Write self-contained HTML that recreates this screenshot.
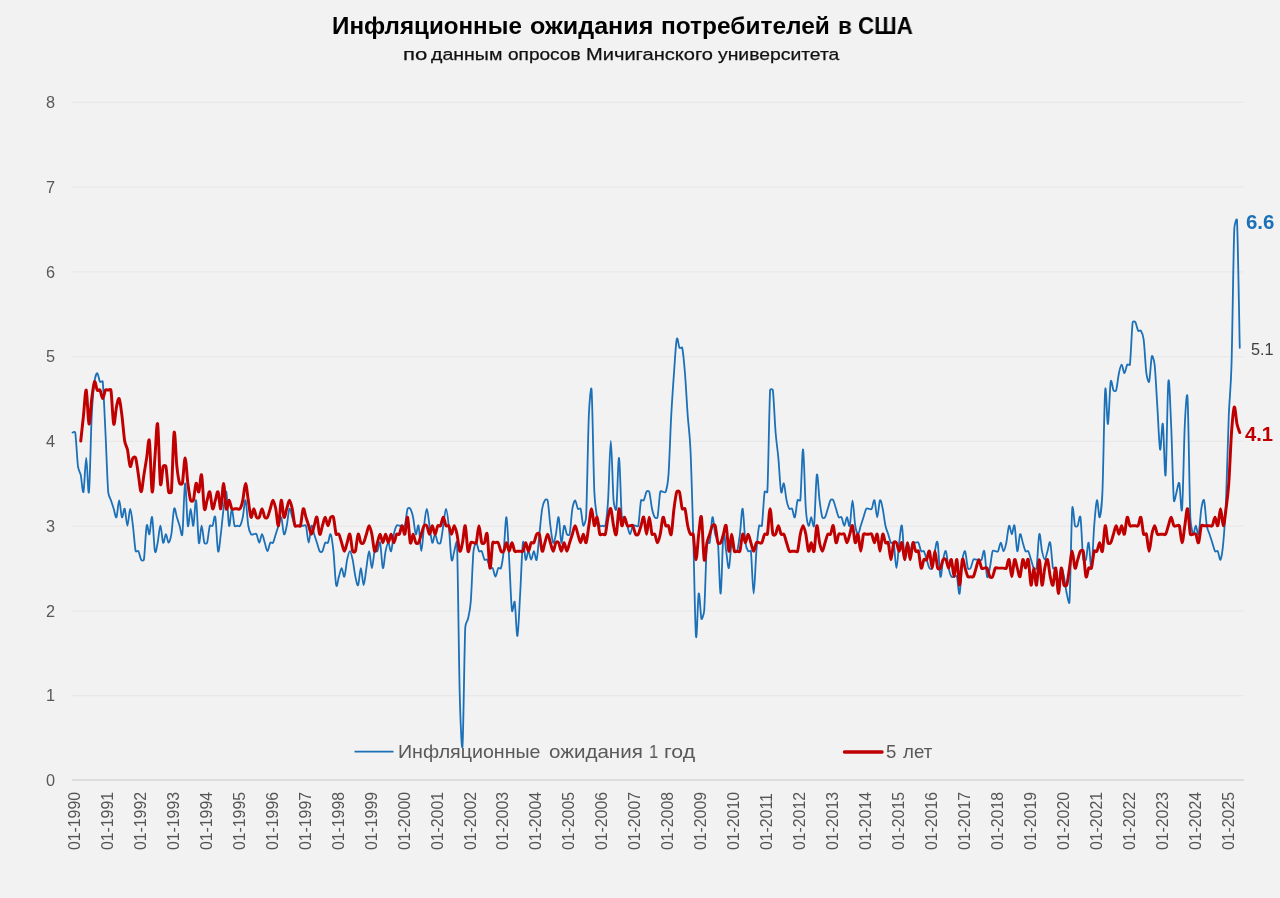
<!DOCTYPE html>
<html><head><meta charset="utf-8"><title>chart</title>
<style>
html,body{margin:0;padding:0}
body{width:1280px;height:898px;background:#f2f2f2;position:relative;overflow:hidden;font-family:"Liberation Sans",sans-serif;color:#595959}
.t{position:absolute;white-space:nowrap;line-height:1;will-change:transform}
.title{top:14.8px;font-size:23.4px;font-weight:bold;color:#000;transform-origin:0 50%}
.sub{top:46.3px;font-size:17.2px;color:#111;-webkit-text-stroke:0.25px #111;transform-origin:0 50%}
.yl{right:1225px;font-size:16.3px;color:#595959}
.xl{font-size:15.8px;color:#555;transform-origin:0 0;transform:rotate(-90deg)}
.leg{font-size:17.8px;color:#595959;transform-origin:0 50%}
</style></head><body>
<svg width="1280" height="898" viewBox="0 0 1280 898" style="position:absolute;left:0;top:0">
<line x1="72" x2="1243.5" y1="695.55" y2="695.55" stroke="#e8e8e8" stroke-width="1.3"/>
<line x1="72" x2="1243.5" y1="610.80" y2="610.80" stroke="#e8e8e8" stroke-width="1.3"/>
<line x1="72" x2="1243.5" y1="526.05" y2="526.05" stroke="#e8e8e8" stroke-width="1.3"/>
<line x1="72" x2="1243.5" y1="441.30" y2="441.30" stroke="#e8e8e8" stroke-width="1.3"/>
<line x1="72" x2="1243.5" y1="356.55" y2="356.55" stroke="#e8e8e8" stroke-width="1.3"/>
<line x1="72" x2="1243.5" y1="271.80" y2="271.80" stroke="#e8e8e8" stroke-width="1.3"/>
<line x1="72" x2="1243.5" y1="187.05" y2="187.05" stroke="#e8e8e8" stroke-width="1.3"/>
<line x1="72" x2="1243.5" y1="102.30" y2="102.30" stroke="#e8e8e8" stroke-width="1.3"/>
<line x1="72" x2="1244" y1="780" y2="780" stroke="#d6d6d6" stroke-width="1.6"/>
<line x1="354.5" x2="393.5" y1="751.6" y2="751.6" stroke="#1b70b8" stroke-width="1.9"/>
<line x1="844.5" x2="882" y1="752" y2="752" stroke="#c00000" stroke-width="3.4" stroke-linecap="round"/>
<path d="M72.50 432.53C72.61 432.53 75.03 431.17 75.25 432.53C76.16 438.18 77.08 459.36 77.99 466.43C78.57 470.84 80.17 472.25 80.74 474.90C81.66 479.14 82.57 494.68 83.49 491.85C84.40 489.03 85.32 457.95 86.23 457.95C87.15 457.95 88.06 498.91 88.98 491.85C89.89 484.79 90.81 433.94 91.73 415.57C92.57 398.59 93.63 388.21 94.47 381.68C95.04 377.26 96.65 373.20 97.22 373.20C98.13 373.20 99.05 380.26 99.97 381.68C100.71 382.83 102.56 380.31 102.71 381.68C103.63 390.15 104.54 414.16 105.46 432.53C106.37 450.89 107.29 480.55 108.20 491.85C108.56 496.29 110.59 499.22 110.95 500.32C111.87 503.15 112.78 505.98 113.70 508.80C114.61 511.62 115.53 518.69 116.44 517.27C117.36 515.86 118.28 500.32 119.19 500.32C120.11 500.32 121.02 515.86 121.94 517.27C122.85 518.69 123.77 507.39 124.68 508.80C125.60 510.21 126.51 525.75 127.43 525.75C128.35 525.75 129.26 508.80 130.18 508.80C131.09 508.80 132.01 518.69 132.92 525.75C133.84 532.81 134.75 546.94 135.67 551.17C135.96 552.52 137.67 550.02 138.42 551.17C139.33 552.59 140.25 558.24 141.16 559.65C141.91 560.80 143.69 561.01 143.91 559.65C144.82 554.00 145.74 529.99 146.66 525.75C147.57 521.51 148.49 535.64 149.40 534.23C150.32 532.81 151.23 514.45 152.15 517.27C153.06 520.10 153.98 546.94 154.90 551.17C155.81 555.41 156.73 546.94 157.64 542.70C158.56 538.46 159.47 525.75 160.39 525.75C161.30 525.75 162.22 541.29 163.13 542.70C164.05 544.11 164.97 534.23 165.88 534.23C166.80 534.23 167.71 542.70 168.63 542.70C169.34 542.70 170.66 538.62 171.37 534.23C172.29 528.58 173.20 511.62 174.12 508.80C175.04 505.98 175.95 514.45 176.87 517.27C177.78 520.10 178.70 522.92 179.61 525.75C180.19 527.52 181.79 538.64 182.36 534.23C183.28 527.16 184.19 484.79 185.11 483.38C186.02 481.96 186.94 521.51 187.85 525.75C188.77 529.99 189.68 508.80 190.60 508.80C191.52 508.80 192.43 527.16 193.35 525.75C194.26 524.34 195.18 497.50 196.09 500.32C197.01 503.15 197.92 538.46 198.84 542.70C199.75 546.94 200.67 525.75 201.59 525.75C202.50 525.75 203.42 539.88 204.33 542.70C204.76 544.01 206.66 544.01 207.08 542.70C207.99 539.88 208.91 528.58 209.83 525.75C210.25 524.44 211.82 526.90 212.57 525.75C213.49 524.34 214.40 513.04 215.32 517.27C216.23 521.51 217.15 548.35 218.06 551.17C218.98 554.00 219.90 541.29 220.81 534.23C221.73 527.16 222.64 515.86 223.56 508.80C224.47 501.74 225.39 489.03 226.30 491.85C227.22 494.68 228.13 522.92 229.05 525.75C229.97 528.58 230.88 508.80 231.80 508.80C232.71 508.80 233.63 522.92 234.54 525.75C234.97 527.06 236.87 525.75 237.29 525.75C238.04 525.75 239.29 526.90 240.04 525.75C240.95 524.34 241.87 521.51 242.78 517.27C243.70 513.04 244.61 498.91 245.53 500.32C246.45 501.74 247.36 520.10 248.28 525.75C248.99 530.15 250.31 533.13 251.02 534.23C251.77 535.38 253.02 534.23 253.77 534.23C254.52 534.23 255.77 533.07 256.52 534.23C257.43 535.64 258.35 542.70 259.26 542.70C260.18 542.70 261.09 534.23 262.01 534.23C262.92 534.23 263.84 539.88 264.75 542.70C265.67 545.53 266.59 551.17 267.50 551.17C268.42 551.17 269.33 544.11 270.25 542.70C270.99 541.55 272.25 543.85 272.99 542.70C273.91 541.29 274.83 537.05 275.74 534.23C276.66 531.40 277.57 528.58 278.49 525.75C279.40 522.92 280.32 515.86 281.23 517.27C282.15 518.69 283.06 532.81 283.98 534.23C284.90 535.64 285.81 529.99 286.73 525.75C287.64 521.51 288.56 510.21 289.47 508.80C290.39 507.39 291.30 514.45 292.22 517.27C293.14 520.10 294.05 524.34 294.97 525.75C295.71 526.90 296.97 525.75 297.71 525.75C298.63 525.75 299.54 525.75 300.46 525.75C301.38 525.75 302.29 525.75 303.21 525.75C303.63 525.75 305.53 524.44 305.95 525.75C306.87 528.58 307.78 542.70 308.70 542.70C309.61 542.70 310.53 527.16 311.45 525.75C312.36 524.34 313.28 531.40 314.19 534.23C315.11 537.05 316.02 539.88 316.94 542.70C317.85 545.53 318.77 549.76 319.69 551.17C320.43 552.33 321.68 552.33 322.43 551.17C323.35 549.76 324.26 544.11 325.18 542.70C325.92 541.55 327.18 543.85 327.92 542.70C328.84 541.29 329.76 532.81 330.67 534.23C331.59 535.64 332.50 542.70 333.42 551.17C334.33 559.65 335.25 580.84 336.16 585.08C337.08 589.31 338.00 579.43 338.91 576.60C339.83 573.77 340.74 568.12 341.66 568.12C342.57 568.12 343.49 578.01 344.40 576.60C345.32 575.19 346.23 563.89 347.15 559.65C348.07 555.41 348.98 551.17 349.90 551.17C350.81 551.17 351.73 555.41 352.64 559.65C353.56 563.89 354.47 572.36 355.39 576.60C356.31 580.84 357.22 586.49 358.14 585.08C359.05 583.66 359.97 568.12 360.88 568.12C361.80 568.12 362.71 585.08 363.63 585.08C364.54 585.08 365.46 573.77 366.38 568.12C367.29 562.48 368.21 551.17 369.12 551.17C370.04 551.17 370.95 568.12 371.87 568.12C372.78 568.12 373.70 554.00 374.62 551.17C375.04 549.87 376.61 552.33 377.36 551.17C378.28 549.76 379.19 539.88 380.11 542.70C381.02 545.53 381.94 566.71 382.85 568.12C383.77 569.54 384.69 555.41 385.60 551.17C386.52 546.94 387.43 542.70 388.35 542.70C389.26 542.70 390.18 552.59 391.09 551.17C392.01 549.76 392.93 538.46 393.84 534.23C394.76 529.99 395.67 527.16 396.59 525.75C397.33 524.60 398.59 525.75 399.33 525.75C400.25 525.75 401.16 525.75 402.08 525.75C402.50 525.75 404.40 527.06 404.83 525.75C405.74 522.92 406.66 511.62 407.57 508.80C408.00 507.49 409.57 507.65 410.32 508.80C411.24 510.21 412.15 513.04 413.07 517.27C413.98 521.51 414.90 532.81 415.81 534.23C416.73 535.64 417.64 522.92 418.56 525.75C419.47 528.58 420.39 551.17 421.31 551.17C422.22 551.17 423.14 532.81 424.05 525.75C424.97 518.69 425.88 508.80 426.80 508.80C427.71 508.80 428.63 520.10 429.55 525.75C430.46 531.40 431.38 541.29 432.29 542.70C433.21 544.11 434.12 534.23 435.04 534.23C435.95 534.23 436.87 541.29 437.78 542.70C438.53 543.85 440.11 544.01 440.53 542.70C441.45 539.88 442.36 531.40 443.28 525.75C444.19 520.10 445.11 508.80 446.02 508.80C446.94 508.80 447.86 517.27 448.77 525.75C449.69 534.23 450.60 555.41 451.52 559.65C452.43 563.89 453.35 554.00 454.26 551.17C454.43 550.65 456.84 538.25 457.01 542.70C457.93 566.71 458.84 661.35 459.76 695.25C460.44 720.70 461.82 754.58 462.50 746.10C463.42 734.80 464.33 648.64 465.25 627.45C465.44 623.00 467.80 619.87 468.00 618.98C468.69 615.77 470.05 610.58 470.74 602.02C471.66 590.72 472.57 561.06 473.49 551.17C473.90 546.74 475.82 542.70 476.24 542.70C477.15 542.70 478.07 549.76 478.98 551.17C479.73 552.33 480.98 550.02 481.73 551.17C482.64 552.59 483.56 558.24 484.48 559.65C485.22 560.80 486.47 558.50 487.22 559.65C488.14 561.06 489.05 566.71 489.97 568.12C490.71 569.28 491.97 566.97 492.71 568.12C493.63 569.54 494.55 576.60 495.46 576.60C496.38 576.60 497.29 569.54 498.21 568.12C498.95 566.97 500.53 569.43 500.95 568.12C501.87 565.30 502.79 559.65 503.70 551.17C504.62 542.70 505.53 515.86 506.45 517.27C507.36 518.69 508.28 544.11 509.19 559.65C510.11 575.19 511.02 603.44 511.94 610.50C512.51 614.92 514.11 599.37 514.69 602.02C515.60 606.26 516.52 637.34 517.43 635.92C518.35 634.51 519.26 609.09 520.18 593.55C521.10 578.01 522.01 548.35 522.93 542.70C523.84 537.05 524.76 558.24 525.67 559.65C526.59 561.06 527.50 551.17 528.42 551.17C529.33 551.17 530.25 559.65 531.17 559.65C532.08 559.65 533.00 551.17 533.91 551.17C534.83 551.17 535.74 562.47 536.66 559.65C537.57 556.83 538.49 542.70 539.40 534.23C540.32 525.75 541.24 514.45 542.15 508.80C542.86 504.40 544.19 501.42 544.90 500.32C545.64 499.17 547.35 498.98 547.64 500.32C548.56 504.56 549.48 518.69 550.39 525.75C551.31 532.81 552.22 541.29 553.14 542.70C554.05 544.11 554.97 538.46 555.88 534.23C556.80 529.99 557.72 515.86 558.63 517.27C559.55 518.69 560.46 541.29 561.38 542.70C562.29 544.11 563.21 527.16 564.12 525.75C565.04 524.34 565.95 532.81 566.87 534.23C567.62 535.38 569.33 535.57 569.62 534.23C570.53 529.99 571.45 514.45 572.36 508.80C573.08 504.40 574.40 500.32 575.11 500.32C576.02 500.32 576.94 507.39 577.86 508.80C578.60 509.95 580.18 507.49 580.60 508.80C581.52 511.62 582.43 524.34 583.35 525.75C583.57 526.09 585.87 521.72 586.10 517.27C587.01 498.91 587.93 436.76 588.84 415.57C589.39 402.80 591.04 382.49 591.59 390.15C592.50 402.86 593.42 470.66 594.34 491.85C594.89 504.62 596.53 513.87 597.08 517.27C597.79 521.67 599.12 524.65 599.83 525.75C600.57 526.90 601.83 525.75 602.57 525.75C602.86 525.75 605.03 527.09 605.32 525.75C606.15 521.92 607.24 513.08 608.07 500.32C608.98 486.20 609.90 441.00 610.81 441.00C611.73 441.00 612.65 489.02 613.56 500.32C613.92 504.76 615.73 513.22 616.31 508.80C617.22 501.74 618.14 456.54 619.05 457.95C619.97 459.36 620.88 507.39 621.80 517.27C621.93 518.64 623.80 516.12 624.55 517.27C625.46 518.69 626.38 522.92 627.29 525.75C628.21 528.58 629.12 534.23 630.04 534.23C630.96 534.23 631.87 527.16 632.79 525.75C633.53 524.60 634.79 525.75 635.53 525.75C635.82 525.75 637.99 527.09 638.28 525.75C639.19 521.51 640.11 504.56 641.03 500.32C641.32 498.98 643.03 501.48 643.77 500.32C644.69 498.91 645.60 493.26 646.52 491.85C647.27 490.70 648.84 490.54 649.26 491.85C650.18 494.68 651.10 504.56 652.01 508.80C652.93 513.04 653.84 515.86 654.76 517.27C655.50 518.43 657.21 518.62 657.50 517.27C658.42 513.04 659.34 496.09 660.25 491.85C660.54 490.51 662.71 491.85 663.00 491.85C663.42 491.85 665.32 493.16 665.74 491.85C666.36 489.95 667.87 483.46 668.49 474.90C669.41 462.19 670.32 432.52 671.24 415.57C672.15 398.62 673.07 385.91 673.98 373.20C674.90 360.49 675.81 343.54 676.73 339.30C677.65 335.06 678.56 346.36 679.48 347.78C680.22 348.93 681.93 346.43 682.22 347.78C683.14 352.01 684.05 361.90 684.97 373.20C685.88 384.50 686.80 402.86 687.72 415.57C688.50 426.50 689.68 432.49 690.46 449.48C691.38 469.25 692.29 503.15 693.21 534.23C694.12 565.30 695.04 626.04 695.96 635.92C696.87 645.81 697.79 596.38 698.70 593.55C699.62 590.72 700.53 616.15 701.45 618.98C701.77 619.96 703.88 614.94 704.20 610.50C705.11 597.79 706.03 554.00 706.94 542.70C707.05 541.33 709.40 544.04 709.69 542.70C710.60 538.46 711.52 518.69 712.43 517.27C713.35 515.86 714.27 529.99 715.18 534.23C715.59 536.13 717.52 538.26 717.93 542.70C718.84 552.59 719.76 594.96 720.67 593.55C721.59 592.14 722.51 541.29 723.42 534.23C724.34 527.16 725.25 545.52 726.17 551.17C727.08 556.82 728.00 569.54 728.91 568.12C729.83 566.71 730.74 545.53 731.66 542.70C732.58 539.88 733.49 549.76 734.41 551.17C735.15 552.33 736.73 552.48 737.15 551.17C738.07 548.35 738.98 541.29 739.90 534.23C740.82 527.16 741.73 507.39 742.65 508.80C743.56 510.21 744.48 535.64 745.39 542.70C745.97 547.12 747.57 550.29 748.14 551.17C748.89 552.33 750.71 549.81 750.89 551.17C751.80 558.24 752.72 593.55 753.63 593.55C754.55 593.55 755.46 562.47 756.38 551.17C757.29 539.88 758.21 529.99 759.12 525.75C759.41 524.41 761.65 527.11 761.87 525.75C762.79 520.10 763.70 497.50 764.62 491.85C764.84 490.49 767.29 493.22 767.36 491.85C768.28 474.90 769.20 407.10 770.11 390.15C770.19 388.78 772.68 388.79 772.86 390.15C773.77 397.21 774.69 421.23 775.60 432.53C776.52 443.83 777.43 448.06 778.35 457.95C779.27 467.84 780.18 487.61 781.10 491.85C782.01 496.09 782.93 481.96 783.84 483.38C784.76 484.79 785.67 496.09 786.59 500.32C787.51 504.56 788.42 507.39 789.34 508.80C790.08 509.95 791.34 507.65 792.08 508.80C793.00 510.21 793.91 518.69 794.83 517.27C795.75 515.86 796.66 503.15 797.58 500.32C798.00 499.02 800.18 501.69 800.32 500.32C801.24 491.85 802.15 448.06 803.07 449.48C803.98 450.89 804.90 496.09 805.82 508.80C806.43 517.36 807.95 524.80 808.56 525.75C809.48 527.16 810.39 517.27 811.31 517.27C811.88 517.27 813.48 530.17 814.06 525.75C814.97 518.69 815.89 479.14 816.80 474.90C817.72 470.66 818.63 493.26 819.55 500.32C820.46 507.39 821.38 514.45 822.29 517.27C822.72 518.58 824.29 518.43 825.04 517.27C825.96 515.86 826.87 511.62 827.79 508.80C828.70 505.98 829.62 501.74 830.53 500.32C831.28 499.17 832.53 499.17 833.28 500.32C834.20 501.74 835.11 505.98 836.03 508.80C836.94 511.62 837.86 515.86 838.77 517.27C839.52 518.43 840.77 516.12 841.52 517.27C842.44 518.69 843.35 525.75 844.27 525.75C845.18 525.75 846.10 517.27 847.01 517.27C847.93 517.27 848.84 528.58 849.76 525.75C850.67 522.92 851.59 500.32 852.51 500.32C853.42 500.32 854.34 520.10 855.25 525.75C855.96 530.15 857.29 534.23 858.00 534.23C858.91 534.23 859.83 528.58 860.75 525.75C861.66 522.92 862.58 520.10 863.49 517.27C864.41 514.45 865.32 510.21 866.24 508.80C866.99 507.65 868.24 508.80 868.99 508.80C869.73 508.80 870.98 509.95 871.73 508.80C872.65 507.39 873.56 498.91 874.48 500.32C875.39 501.74 876.31 517.27 877.22 517.27C878.14 517.27 879.06 501.74 879.97 500.32C880.89 498.91 881.80 504.56 882.72 508.80C883.63 513.04 884.55 521.51 885.46 525.75C886.38 529.99 887.30 531.40 888.21 534.23C889.13 537.05 890.04 541.29 890.96 542.70C891.70 543.85 893.41 541.36 893.70 542.70C894.62 546.94 895.53 568.12 896.45 568.12C897.37 568.12 898.28 549.76 899.20 542.70C900.11 535.64 901.03 522.92 901.94 525.75C902.86 528.58 903.77 556.82 904.69 559.65C905.61 562.48 906.52 544.11 907.44 542.70C908.35 541.29 909.27 551.17 910.18 551.17C911.10 551.17 912.01 544.11 912.93 542.70C913.68 541.55 914.93 542.70 915.68 542.70C916.42 542.70 917.68 541.55 918.42 542.70C919.34 544.11 920.25 549.76 921.17 551.17C921.92 552.33 923.17 550.02 923.92 551.17C924.83 552.59 925.75 556.82 926.66 559.65C927.58 562.48 928.49 566.71 929.41 568.12C930.15 569.28 931.73 569.43 932.15 568.12C933.07 565.30 933.99 555.41 934.90 551.17C935.82 546.94 936.73 538.46 937.65 542.70C938.56 546.94 939.48 573.78 940.39 576.60C941.31 579.42 942.23 563.89 943.14 559.65C944.06 555.41 944.97 549.76 945.89 551.17C946.80 552.59 947.72 563.89 948.63 568.12C949.55 572.36 950.46 575.19 951.38 576.60C952.13 577.75 953.38 576.60 954.13 576.60C954.55 576.60 956.45 575.29 956.87 576.60C957.79 579.42 958.70 596.38 959.62 593.55C960.54 590.72 961.45 566.71 962.37 559.65C962.94 555.23 964.54 550.29 965.11 551.17C966.03 552.59 966.94 565.30 967.86 568.12C968.28 569.43 969.86 569.28 970.61 568.12C971.52 566.71 972.44 561.06 973.35 559.65C974.10 558.50 975.35 559.65 976.10 559.65C977.01 559.65 977.93 559.65 978.85 559.65C979.59 559.65 980.84 560.80 981.59 559.65C982.51 558.24 983.42 548.35 984.34 551.17C985.25 554.00 986.17 573.77 987.08 576.60C988.00 579.43 988.92 572.36 989.83 568.12C990.75 563.89 991.66 554.00 992.58 551.17C993.00 549.87 994.90 551.17 995.32 551.17C996.07 551.17 997.32 552.33 998.07 551.17C998.99 549.76 999.90 542.70 1000.82 542.70C1001.73 542.70 1002.65 551.17 1003.56 551.17C1004.48 551.17 1005.39 546.94 1006.31 542.70C1007.23 538.46 1008.14 527.16 1009.06 525.75C1009.97 524.34 1010.89 534.23 1011.80 534.23C1012.72 534.23 1013.63 522.92 1014.55 525.75C1015.47 528.58 1016.38 549.76 1017.30 551.17C1018.21 552.59 1019.13 535.64 1020.04 534.23C1020.96 532.81 1021.87 539.88 1022.79 542.70C1023.70 545.53 1024.62 549.76 1025.54 551.17C1026.28 552.33 1027.54 550.02 1028.28 551.17C1029.20 552.59 1030.11 556.82 1031.03 559.65C1031.94 562.48 1032.86 566.71 1033.78 568.12C1034.52 569.28 1036.30 569.48 1036.52 568.12C1037.44 562.48 1038.35 537.05 1039.27 534.23C1040.18 531.40 1041.10 546.94 1042.01 551.17C1042.93 555.41 1043.85 559.65 1044.76 559.65C1045.68 559.65 1046.59 554.00 1047.51 551.17C1048.42 548.35 1049.34 539.88 1050.25 542.70C1051.17 545.53 1052.09 563.89 1053.00 568.12C1053.29 569.47 1055.32 566.82 1055.75 568.12C1056.66 570.95 1057.58 585.08 1058.49 585.08C1059.41 585.08 1060.32 569.54 1061.24 568.12C1062.16 566.71 1063.07 572.36 1063.99 576.60C1064.90 580.84 1065.82 589.31 1066.73 593.55C1067.02 594.88 1069.19 606.47 1069.48 602.02C1070.39 587.90 1071.31 521.51 1072.23 508.80C1072.84 500.24 1074.36 523.85 1074.97 525.75C1075.40 527.06 1076.97 526.90 1077.72 525.75C1078.43 524.65 1079.75 512.88 1080.47 517.27C1081.38 522.92 1082.30 552.59 1083.21 559.65C1083.39 561.01 1085.54 560.96 1085.96 559.65C1086.87 556.83 1087.79 541.29 1088.70 542.70C1089.62 544.11 1090.54 570.95 1091.45 568.12C1092.37 565.30 1093.28 537.05 1094.20 525.75C1095.11 514.45 1096.03 501.74 1096.94 500.32C1097.86 498.91 1098.78 518.69 1099.69 517.27C1100.24 516.42 1101.89 504.62 1102.44 491.85C1103.35 470.66 1104.27 401.45 1105.18 390.15C1106.10 378.85 1107.02 425.46 1107.93 424.05C1108.85 422.64 1109.76 387.32 1110.68 381.68C1111.39 377.28 1112.71 389.05 1113.42 390.15C1114.17 391.30 1115.75 391.46 1116.17 390.15C1117.09 387.33 1118.00 377.44 1118.92 373.20C1119.83 368.96 1120.75 364.72 1121.66 364.72C1122.58 364.72 1123.49 373.20 1124.41 373.20C1125.33 373.20 1126.24 366.14 1127.16 364.72C1127.90 363.57 1129.73 366.09 1129.90 364.72C1130.82 357.66 1131.73 329.41 1132.65 322.35C1132.83 320.99 1134.65 321.20 1135.40 322.35C1136.31 323.76 1137.23 329.41 1138.14 330.82C1138.89 331.98 1140.14 329.67 1140.89 330.82C1141.46 331.71 1143.06 334.88 1143.63 339.30C1144.55 346.36 1145.47 366.14 1146.38 373.20C1146.95 377.62 1148.56 383.44 1149.13 381.68C1150.04 378.85 1150.96 359.07 1151.87 356.25C1152.35 354.77 1154.14 360.30 1154.62 364.72C1155.54 373.20 1156.45 392.97 1157.37 407.10C1158.28 421.22 1159.20 446.65 1160.11 449.48C1161.03 452.30 1161.94 419.81 1162.86 424.05C1163.78 428.29 1164.69 481.96 1165.61 474.90C1166.52 467.84 1167.44 390.15 1168.35 381.68C1169.27 373.20 1170.18 404.28 1171.10 424.05C1172.02 443.82 1172.93 489.02 1173.85 500.32C1174.21 504.76 1176.23 492.96 1176.59 491.85C1177.51 489.03 1178.42 480.55 1179.34 483.38C1180.26 486.20 1181.17 518.69 1182.09 508.80C1183.00 498.91 1183.92 442.41 1184.83 424.05C1185.47 411.28 1186.83 385.86 1187.58 398.62C1188.49 414.16 1189.41 494.67 1190.33 517.27C1190.67 525.85 1192.72 533.69 1193.07 534.23C1193.99 535.64 1194.90 525.75 1195.82 525.75C1196.73 525.75 1197.65 537.05 1198.57 534.23C1199.48 531.40 1200.40 514.45 1201.31 508.80C1202.02 504.40 1203.35 498.13 1204.06 500.32C1204.97 503.15 1205.89 520.10 1206.80 525.75C1207.52 530.15 1208.84 532.03 1209.55 534.23C1210.47 537.05 1211.38 539.88 1212.30 542.70C1213.21 545.53 1214.13 549.76 1215.04 551.17C1215.79 552.33 1217.04 550.02 1217.79 551.17C1218.71 552.59 1219.62 561.06 1220.54 559.65C1221.33 558.43 1222.49 551.25 1223.28 542.70C1224.20 532.81 1225.11 521.51 1226.03 500.32C1226.95 479.14 1227.86 438.18 1228.78 415.57C1229.53 397.07 1230.77 390.18 1231.52 364.72C1232.44 333.65 1233.35 253.14 1234.27 229.12C1234.44 224.67 1236.81 216.20 1237.02 220.65C1237.93 240.42 1239.30 326.59 1239.76 347.78" fill="none" stroke="#1b70b8" stroke-width="1.8" stroke-linejoin="round" stroke-linecap="round"/>
<path d="M80.74 441.00C81.20 436.76 82.57 424.05 83.49 415.57C84.40 407.10 85.32 388.74 86.23 390.15C87.15 391.56 88.06 422.64 88.98 424.05C89.89 425.46 90.81 405.69 91.73 398.62C92.64 391.56 93.56 383.09 94.47 381.68C95.39 380.26 96.30 388.74 97.22 390.15C97.97 391.30 99.22 389.00 99.97 390.15C100.88 391.56 101.80 398.62 102.71 398.62C103.63 398.62 104.54 391.56 105.46 390.15C106.20 389.00 107.46 390.15 108.20 390.15C108.42 390.15 110.73 388.79 110.95 390.15C111.87 395.80 112.78 421.23 113.70 424.05C114.61 426.88 115.53 411.34 116.44 407.10C117.36 402.86 118.28 397.21 119.19 398.62C120.11 400.04 121.02 408.51 121.94 415.57C122.85 422.64 123.77 435.35 124.68 441.00C125.40 445.40 126.72 446.18 127.43 449.48C128.35 453.71 129.26 465.01 130.18 466.43C131.09 467.84 132.01 459.36 132.92 457.95C133.67 456.80 135.25 456.64 135.67 457.95C136.59 460.77 137.50 469.25 138.42 474.90C139.33 480.55 140.25 491.85 141.16 491.85C142.08 491.85 142.99 480.55 143.91 474.90C144.82 469.25 145.74 463.60 146.66 457.95C147.57 452.30 148.49 435.35 149.40 441.00C150.32 446.65 151.23 489.03 152.15 491.85C153.06 494.68 153.98 469.25 154.90 457.95C155.81 446.65 156.73 419.81 157.64 424.05C158.56 428.29 159.47 476.31 160.39 483.38C161.30 490.44 162.22 469.25 163.13 466.43C163.56 465.12 165.59 465.08 165.88 466.43C166.80 470.66 167.71 487.61 168.63 491.85C168.92 493.19 171.25 493.22 171.37 491.85C172.29 481.96 173.20 436.76 174.12 432.53C175.04 428.29 175.95 457.95 176.87 466.43C177.78 474.90 178.70 480.55 179.61 483.38C180.04 484.68 182.07 484.72 182.36 483.38C183.28 479.14 184.19 457.95 185.11 457.95C186.02 457.95 186.94 476.31 187.85 483.38C188.77 490.44 189.68 497.50 190.60 500.32C191.02 501.63 192.92 501.63 193.35 500.32C194.26 497.50 195.18 484.79 196.09 483.38C197.01 481.96 197.92 493.26 198.84 491.85C199.75 490.44 200.67 472.07 201.59 474.90C202.50 477.72 203.42 504.56 204.33 508.80C205.25 513.04 206.16 503.15 207.08 500.32C207.99 497.50 208.91 490.44 209.83 491.85C210.74 493.26 211.66 507.39 212.57 508.80C213.49 510.21 214.40 503.15 215.32 500.32C216.23 497.50 217.15 490.44 218.06 491.85C218.98 493.26 219.90 510.21 220.81 508.80C221.73 507.39 222.64 483.38 223.56 483.38C224.47 483.38 225.39 505.98 226.30 508.80C227.22 511.62 228.13 500.32 229.05 500.32C229.97 500.32 230.88 507.39 231.80 508.80C232.54 509.95 233.80 508.80 234.54 508.80C235.46 508.80 236.37 508.80 237.29 508.80C238.04 508.80 239.29 509.95 240.04 508.80C240.95 507.39 241.87 504.56 242.78 500.32C243.70 496.09 244.61 483.38 245.53 483.38C246.45 483.38 247.36 494.68 248.28 500.32C249.19 505.97 250.11 515.86 251.02 517.27C251.94 518.69 252.85 508.80 253.77 508.80C254.68 508.80 255.60 515.86 256.52 517.27C257.26 518.43 258.52 518.43 259.26 517.27C260.18 515.86 261.09 508.80 262.01 508.80C262.92 508.80 263.84 515.86 264.75 517.27C265.50 518.43 266.75 518.43 267.50 517.27C268.42 515.86 269.33 511.62 270.25 508.80C271.16 505.98 272.08 500.32 272.99 500.32C273.91 500.32 274.83 504.56 275.74 508.80C276.66 513.04 277.57 527.16 278.49 525.75C279.40 524.34 280.32 501.74 281.23 500.32C282.15 498.91 283.06 515.86 283.98 517.27C284.90 518.69 285.81 511.62 286.73 508.80C287.64 505.98 288.56 500.32 289.47 500.32C290.39 500.32 291.30 504.56 292.22 508.80C293.14 513.04 294.05 522.92 294.97 525.75C295.39 527.06 297.29 525.75 297.71 525.75C298.14 525.75 300.04 527.06 300.46 525.75C301.38 522.92 302.29 510.21 303.21 508.80C304.12 507.39 305.04 514.45 305.95 517.27C306.87 520.10 307.78 522.92 308.70 525.75C309.61 528.58 310.53 534.23 311.45 534.23C312.36 534.23 313.28 528.58 314.19 525.75C315.11 522.92 316.02 515.86 316.94 517.27C317.85 518.69 318.77 532.81 319.69 534.23C320.60 535.64 321.52 528.58 322.43 525.75C323.35 522.92 324.26 517.27 325.18 517.27C326.09 517.27 327.01 525.75 327.92 525.75C328.84 525.75 329.76 518.69 330.67 517.27C331.42 516.12 332.99 515.97 333.42 517.27C334.33 520.10 335.25 531.40 336.16 534.23C336.59 535.53 338.16 533.07 338.91 534.23C339.83 535.64 340.74 539.88 341.66 542.70C342.57 545.53 343.49 551.17 344.40 551.17C345.32 551.17 346.23 545.53 347.15 542.70C348.07 539.88 348.98 532.81 349.90 534.23C350.81 535.64 351.73 548.35 352.64 551.17C353.07 552.48 354.97 552.48 355.39 551.17C356.31 548.35 357.22 535.64 358.14 534.23C359.05 532.81 359.97 541.29 360.88 542.70C361.63 543.85 362.88 543.85 363.63 542.70C364.54 541.29 365.46 537.05 366.38 534.23C367.29 531.40 368.21 525.75 369.12 525.75C370.04 525.75 370.95 529.99 371.87 534.23C372.78 538.46 373.70 549.76 374.62 551.17C375.53 552.59 376.45 545.53 377.36 542.70C378.28 539.88 379.19 534.23 380.11 534.23C381.02 534.23 381.94 542.70 382.85 542.70C383.77 542.70 384.69 534.23 385.60 534.23C386.52 534.23 387.43 542.70 388.35 542.70C389.26 542.70 390.18 534.23 391.09 534.23C392.01 534.23 392.93 542.70 393.84 542.70C394.76 542.70 395.67 535.64 396.59 534.23C397.33 533.07 398.59 535.38 399.33 534.23C400.25 532.81 401.16 525.75 402.08 525.75C403.00 525.75 403.91 535.64 404.83 534.23C405.74 532.81 406.66 515.86 407.57 517.27C408.49 518.69 409.40 539.88 410.32 542.70C411.24 545.53 412.15 534.23 413.07 534.23C413.98 534.23 414.90 541.29 415.81 542.70C416.56 543.85 417.81 543.85 418.56 542.70C419.47 541.29 420.39 537.05 421.31 534.23C422.22 531.40 423.14 527.16 424.05 525.75C424.80 524.60 426.05 524.60 426.80 525.75C427.71 527.16 428.63 534.23 429.55 534.23C430.46 534.23 431.38 525.75 432.29 525.75C433.21 525.75 434.12 534.23 435.04 534.23C435.95 534.23 436.87 527.16 437.78 525.75C438.53 524.60 439.78 526.90 440.53 525.75C441.45 524.34 442.36 517.27 443.28 517.27C444.19 517.27 445.11 524.34 446.02 525.75C446.77 526.90 448.02 524.60 448.77 525.75C449.69 527.16 450.60 534.23 451.52 534.23C452.43 534.23 453.35 525.75 454.26 525.75C455.18 525.75 456.09 529.99 457.01 534.23C457.93 538.46 458.84 549.76 459.76 551.17C460.67 552.59 461.59 546.94 462.50 542.70C463.42 538.46 464.33 524.34 465.25 525.75C466.17 527.16 467.08 548.35 468.00 551.17C468.91 554.00 469.83 544.11 470.74 542.70C471.49 541.55 472.74 542.70 473.49 542.70C473.91 542.70 475.81 544.01 476.24 542.70C477.15 539.88 478.07 525.75 478.98 525.75C479.90 525.75 480.81 539.88 481.73 542.70C482.15 544.01 483.73 543.85 484.48 542.70C485.39 541.29 486.31 529.99 487.22 534.23C488.14 538.46 489.05 566.71 489.97 568.12C490.88 569.54 491.80 546.94 492.71 542.70C493.00 541.36 495.17 542.70 495.46 542.70C496.21 542.70 497.46 541.55 498.21 542.70C499.12 544.11 500.04 549.76 500.95 551.17C501.70 552.33 502.95 552.33 503.70 551.17C504.62 549.76 505.53 542.70 506.45 542.70C507.36 542.70 508.28 551.17 509.19 551.17C510.11 551.17 511.02 542.70 511.94 542.70C512.86 542.70 513.77 549.76 514.69 551.17C515.43 552.33 516.69 551.17 517.43 551.17C518.35 551.17 519.26 551.17 520.18 551.17C520.93 551.17 522.18 552.33 522.93 551.17C523.84 549.76 524.76 542.70 525.67 542.70C526.59 542.70 527.50 551.17 528.42 551.17C529.33 551.17 530.25 544.11 531.17 542.70C531.91 541.55 533.17 543.85 533.91 542.70C534.83 541.29 535.74 535.64 536.66 534.23C537.41 533.07 538.98 532.92 539.40 534.23C540.32 537.05 541.24 549.76 542.15 551.17C543.07 552.59 543.98 545.53 544.90 542.70C545.81 539.88 546.73 534.23 547.64 534.23C548.56 534.23 549.48 539.88 550.39 542.70C551.31 545.53 552.22 551.17 553.14 551.17C554.05 551.17 554.97 544.11 555.88 542.70C556.63 541.55 557.88 541.55 558.63 542.70C559.55 544.11 560.46 551.17 561.38 551.17C562.29 551.17 563.21 542.70 564.12 542.70C565.04 542.70 565.95 551.17 566.87 551.17C567.79 551.17 568.70 545.53 569.62 542.70C570.53 539.88 571.45 537.05 572.36 534.23C573.28 531.40 574.19 525.75 575.11 525.75C576.02 525.75 576.94 531.40 577.86 534.23C578.77 537.05 579.69 542.70 580.60 542.70C581.52 542.70 582.43 534.23 583.35 534.23C584.26 534.23 585.18 544.11 586.10 542.70C587.01 541.29 587.93 531.40 588.84 525.75C589.76 520.10 590.67 508.80 591.59 508.80C592.50 508.80 593.42 524.34 594.34 525.75C595.25 527.16 596.17 515.86 597.08 517.27C598.00 518.69 598.91 531.40 599.83 534.23C600.25 535.53 602.15 534.23 602.57 534.23C603.00 534.23 604.90 535.53 605.32 534.23C606.24 531.40 607.15 521.51 608.07 517.27C608.98 513.04 609.90 507.39 610.81 508.80C611.73 510.21 612.65 521.51 613.56 525.75C614.48 529.99 615.39 537.05 616.31 534.23C617.22 531.40 618.14 510.21 619.05 508.80C619.97 507.39 620.88 524.34 621.80 525.75C622.72 527.16 623.63 517.27 624.55 517.27C625.46 517.27 626.38 524.34 627.29 525.75C628.04 526.90 629.29 525.75 630.04 525.75C630.79 525.75 632.04 524.60 632.79 525.75C633.70 527.16 634.62 532.81 635.53 534.23C636.28 535.38 637.53 535.38 638.28 534.23C639.19 532.81 640.11 528.58 641.03 525.75C641.94 522.92 642.86 515.86 643.77 517.27C644.69 518.69 645.60 534.23 646.52 534.23C647.43 534.23 648.35 517.27 649.26 517.27C650.18 517.27 651.10 531.40 652.01 534.23C652.43 535.53 654.01 533.07 654.76 534.23C655.67 535.64 656.59 542.70 657.50 542.70C658.42 542.70 659.34 538.46 660.25 534.23C661.17 529.99 662.08 518.69 663.00 517.27C663.91 515.86 664.83 524.34 665.74 525.75C666.49 526.90 667.74 524.60 668.49 525.75C669.41 527.16 670.32 537.05 671.24 534.23C672.15 531.40 673.07 515.86 673.98 508.80C674.90 501.74 675.81 494.68 676.73 491.85C677.15 490.54 679.05 490.54 679.48 491.85C680.39 494.68 681.31 505.98 682.22 508.80C682.65 510.11 684.55 507.49 684.97 508.80C685.88 511.62 686.80 521.51 687.72 525.75C688.63 529.99 689.55 532.81 690.46 534.23C691.21 535.38 692.92 532.88 693.21 534.23C694.12 538.46 695.04 559.65 695.96 559.65C696.87 559.65 697.79 541.29 698.70 534.23C699.62 527.16 700.53 513.04 701.45 517.27C702.36 521.51 703.28 555.41 704.20 559.65C705.11 563.89 706.03 546.94 706.94 542.70C707.86 538.46 708.77 537.05 709.69 534.23C710.60 531.40 711.52 527.16 712.43 525.75C713.18 524.60 714.76 524.44 715.18 525.75C716.10 528.58 717.01 539.88 717.93 542.70C718.35 544.01 719.93 543.85 720.67 542.70C721.59 541.29 722.51 537.05 723.42 534.23C724.34 531.40 725.25 522.92 726.17 525.75C727.08 528.58 728.00 549.76 728.91 551.17C729.83 552.59 730.74 534.23 731.66 534.23C732.58 534.23 733.49 548.35 734.41 551.17C734.83 552.48 736.73 551.17 737.15 551.17C737.58 551.17 739.48 552.48 739.90 551.17C740.82 548.35 741.73 535.64 742.65 534.23C743.56 532.81 744.48 542.70 745.39 542.70C746.31 542.70 747.22 534.23 748.14 534.23C749.05 534.23 749.97 539.88 750.89 542.70C751.80 545.53 752.72 551.17 753.63 551.17C754.55 551.17 755.46 544.11 756.38 542.70C757.13 541.55 758.38 542.70 759.12 542.70C759.87 542.70 761.12 543.85 761.87 542.70C762.79 541.29 763.70 535.64 764.62 534.23C765.36 533.07 767.07 535.57 767.36 534.23C768.28 529.99 769.20 508.80 770.11 508.80C771.03 508.80 771.94 529.99 772.86 534.23C773.15 535.57 774.86 535.38 775.60 534.23C776.52 532.81 777.43 525.75 778.35 525.75C779.27 525.75 780.18 532.81 781.10 534.23C781.84 535.38 783.10 533.07 783.84 534.23C784.76 535.64 785.67 539.88 786.59 542.70C787.51 545.53 788.42 549.76 789.34 551.17C790.08 552.33 791.34 551.17 792.08 551.17C793.00 551.17 793.91 551.17 794.83 551.17C795.25 551.17 797.15 552.48 797.58 551.17C798.49 548.35 799.41 538.46 800.32 534.23C801.24 529.99 802.15 525.75 803.07 525.75C803.98 525.75 804.90 529.99 805.82 534.23C806.73 538.46 807.65 549.76 808.56 551.17C809.48 552.59 810.39 542.70 811.31 542.70C812.22 542.70 813.14 554.00 814.06 551.17C814.97 548.35 815.89 527.16 816.80 525.75C817.72 524.34 818.63 538.46 819.55 542.70C820.46 546.94 821.38 551.17 822.29 551.17C823.21 551.17 824.13 545.53 825.04 542.70C825.96 539.88 826.87 535.64 827.79 534.23C828.53 533.07 829.79 535.38 830.53 534.23C831.45 532.81 832.37 524.34 833.28 525.75C834.20 527.16 835.11 541.29 836.03 542.70C836.94 544.11 837.86 535.64 838.77 534.23C839.52 533.07 840.77 534.23 841.52 534.23C842.27 534.23 843.52 533.07 844.27 534.23C845.18 535.64 846.10 542.70 847.01 542.70C847.93 542.70 848.84 537.05 849.76 534.23C850.67 531.40 851.59 524.34 852.51 525.75C853.42 527.16 854.34 541.29 855.25 542.70C856.17 544.11 857.08 532.81 858.00 534.23C858.91 535.64 859.83 551.17 860.75 551.17C861.66 551.17 862.58 537.05 863.49 534.23C863.92 532.92 865.82 534.23 866.24 534.23C867.15 534.23 868.07 534.23 868.99 534.23C869.73 534.23 870.98 533.07 871.73 534.23C872.65 535.64 873.56 542.70 874.48 542.70C875.39 542.70 876.31 532.81 877.22 534.23C878.14 535.64 879.06 551.17 879.97 551.17C880.89 551.17 881.80 535.64 882.72 534.23C883.63 532.81 884.55 541.29 885.46 542.70C886.21 543.85 887.79 541.39 888.21 542.70C889.13 545.53 890.04 559.65 890.96 559.65C891.87 559.65 892.79 545.53 893.70 542.70C894.13 541.39 895.70 541.55 896.45 542.70C897.37 544.11 898.28 551.17 899.20 551.17C900.11 551.17 901.03 541.29 901.94 542.70C902.86 544.11 903.77 559.65 904.69 559.65C905.61 559.65 906.52 542.70 907.44 542.70C908.35 542.70 909.27 559.65 910.18 559.65C911.10 559.65 912.01 544.11 912.93 542.70C913.84 541.29 914.76 549.76 915.68 551.17C916.42 552.33 918.00 549.87 918.42 551.17C919.34 554.00 920.25 566.71 921.17 568.12C922.08 569.54 923.00 561.06 923.92 559.65C924.66 558.50 925.91 560.80 926.66 559.65C927.58 558.24 928.49 549.76 929.41 551.17C930.32 552.59 931.24 568.12 932.15 568.12C933.07 568.12 933.99 551.17 934.90 551.17C935.82 551.17 936.73 565.30 937.65 568.12C938.07 569.43 939.65 569.28 940.39 568.12C941.31 566.71 942.23 561.06 943.14 559.65C943.89 558.50 945.14 558.50 945.89 559.65C946.80 561.06 947.72 568.12 948.63 568.12C949.55 568.12 950.46 558.24 951.38 559.65C952.30 561.06 953.21 576.60 954.13 576.60C955.04 576.60 955.96 558.24 956.87 559.65C957.79 561.06 958.70 585.08 959.62 585.08C960.54 585.08 961.45 562.48 962.37 559.65C963.28 556.82 964.20 565.30 965.11 568.12C966.03 570.95 966.94 575.19 967.86 576.60C968.61 577.75 969.86 576.60 970.61 576.60C971.35 576.60 972.61 577.75 973.35 576.60C974.27 575.19 975.18 570.95 976.10 568.12C977.01 565.30 977.93 559.65 978.85 559.65C979.76 559.65 980.68 566.71 981.59 568.12C982.34 569.28 983.59 568.12 984.34 568.12C985.08 568.12 986.34 566.97 987.08 568.12C988.00 569.54 988.92 575.19 989.83 576.60C990.58 577.75 991.83 577.75 992.58 576.60C993.49 575.19 994.41 569.54 995.32 568.12C996.07 566.97 997.32 568.12 998.07 568.12C998.99 568.12 999.90 568.12 1000.82 568.12C1001.73 568.12 1002.65 568.12 1003.56 568.12C1004.31 568.12 1005.56 569.28 1006.31 568.12C1007.23 566.71 1008.14 558.24 1009.06 559.65C1009.97 561.06 1010.89 576.60 1011.80 576.60C1012.72 576.60 1013.63 561.06 1014.55 559.65C1015.47 558.24 1016.38 565.30 1017.30 568.12C1018.21 570.95 1019.13 578.01 1020.04 576.60C1020.96 575.19 1021.87 561.06 1022.79 559.65C1023.70 558.24 1024.62 568.12 1025.54 568.12C1026.45 568.12 1027.37 556.82 1028.28 559.65C1029.20 562.48 1030.11 583.66 1031.03 585.08C1031.94 586.49 1032.86 568.12 1033.78 568.12C1034.69 568.12 1035.61 586.49 1036.52 585.08C1037.44 583.66 1038.35 559.65 1039.27 559.65C1040.18 559.65 1041.10 583.66 1042.01 585.08C1042.93 586.49 1043.85 572.36 1044.76 568.12C1045.68 563.89 1046.59 558.24 1047.51 559.65C1048.42 561.06 1049.34 572.36 1050.25 576.60C1051.17 580.84 1052.09 586.49 1053.00 585.08C1053.92 583.66 1054.83 566.71 1055.75 568.12C1056.66 569.54 1057.58 593.55 1058.49 593.55C1059.41 593.55 1060.32 569.54 1061.24 568.12C1062.16 566.71 1063.07 582.25 1063.99 585.08C1064.41 586.38 1066.31 586.38 1066.73 585.08C1067.65 582.25 1068.56 573.77 1069.48 568.12C1070.39 562.48 1071.31 551.17 1072.23 551.17C1073.14 551.17 1074.06 566.71 1074.97 568.12C1075.89 569.54 1076.80 562.48 1077.72 559.65C1078.63 556.82 1079.55 552.59 1080.47 551.17C1081.21 550.02 1082.92 549.83 1083.21 551.17C1084.13 555.41 1085.04 573.77 1085.96 576.60C1086.87 579.43 1087.79 569.54 1088.70 568.12C1089.45 566.97 1091.03 569.43 1091.45 568.12C1092.37 565.30 1093.28 554.00 1094.20 551.17C1094.62 549.87 1096.20 552.33 1096.94 551.17C1097.86 549.76 1098.78 542.70 1099.69 542.70C1100.61 542.70 1101.52 554.00 1102.44 551.17C1103.35 548.35 1104.27 527.16 1105.18 525.75C1106.10 524.34 1107.02 539.88 1107.93 542.70C1108.35 544.01 1109.93 543.85 1110.68 542.70C1111.59 541.29 1112.51 537.05 1113.42 534.23C1114.34 531.40 1115.25 525.75 1116.17 525.75C1117.09 525.75 1118.00 534.23 1118.92 534.23C1119.83 534.23 1120.75 525.75 1121.66 525.75C1122.58 525.75 1123.49 535.64 1124.41 534.23C1125.33 532.81 1126.24 518.69 1127.16 517.27C1128.07 515.86 1128.99 524.34 1129.90 525.75C1130.65 526.90 1131.90 525.75 1132.65 525.75C1133.56 525.75 1134.48 525.75 1135.40 525.75C1136.14 525.75 1137.40 526.90 1138.14 525.75C1139.06 524.34 1139.97 515.86 1140.89 517.27C1141.80 518.69 1142.72 531.40 1143.63 534.23C1144.06 535.53 1145.96 532.92 1146.38 534.23C1147.30 537.05 1148.21 551.17 1149.13 551.17C1150.04 551.17 1150.96 538.46 1151.87 534.23C1152.79 529.99 1153.71 525.75 1154.62 525.75C1155.54 525.75 1156.45 532.81 1157.37 534.23C1158.11 535.38 1159.37 534.23 1160.11 534.23C1161.03 534.23 1161.94 534.23 1162.86 534.23C1163.61 534.23 1164.86 535.38 1165.61 534.23C1166.52 532.81 1167.44 528.58 1168.35 525.75C1169.27 522.92 1170.18 517.27 1171.10 517.27C1172.02 517.27 1172.93 524.34 1173.85 525.75C1174.59 526.90 1175.85 525.75 1176.59 525.75C1177.02 525.75 1178.92 524.44 1179.34 525.75C1180.26 528.58 1181.17 542.70 1182.09 542.70C1183.00 542.70 1183.92 531.40 1184.83 525.75C1185.75 520.10 1186.66 507.39 1187.58 508.80C1188.49 510.21 1189.41 529.99 1190.33 534.23C1190.62 535.57 1192.78 534.23 1193.07 534.23C1193.82 534.23 1195.07 533.07 1195.82 534.23C1196.73 535.64 1197.65 544.11 1198.57 542.70C1199.48 541.29 1200.40 528.58 1201.31 525.75C1201.73 524.44 1203.63 525.75 1204.06 525.75C1204.97 525.75 1205.89 525.75 1206.80 525.75C1207.72 525.75 1208.64 525.75 1209.55 525.75C1210.30 525.75 1211.55 526.90 1212.30 525.75C1213.21 524.34 1214.13 517.27 1215.04 517.27C1215.96 517.27 1216.88 527.16 1217.79 525.75C1218.71 524.34 1219.62 508.80 1220.54 508.80C1221.45 508.80 1222.37 525.75 1223.28 525.75C1224.20 525.75 1225.11 515.86 1226.03 508.80C1226.95 501.74 1227.86 496.09 1228.78 483.38C1229.69 470.66 1230.61 445.24 1231.52 432.53C1232.44 419.81 1233.35 408.51 1234.27 407.10C1235.19 405.69 1236.10 419.81 1237.02 424.05C1237.93 428.29 1239.30 431.11 1239.76 432.53" fill="none" stroke="#c00000" stroke-width="2.95" stroke-linejoin="round" stroke-linecap="round"/>
</svg>
<div class="t title" style="left:332.07px;transform:scaleX(1.0338)">Инфляционные</div>
<div class="t title" style="left:529.68px;transform:scaleX(1.0730)">ожидания</div>
<div class="t title" style="left:661.45px;transform:scaleX(1.0456)">потребителей</div>
<div class="t title" style="left:837.79px;transform:scaleX(0.9615)">в</div>
<div class="t title" style="left:857.79px;transform:scaleX(0.9554)">США</div>
<div class="t sub" style="left:403.11px;transform:scaleX(1.2853)">по</div>
<div class="t sub" style="left:430.75px;transform:scaleX(1.1371)">данным</div>
<div class="t sub" style="left:508.00px;transform:scaleX(1.1077)">опросов</div>
<div class="t sub" style="left:585.83px;transform:scaleX(1.1682)">Мичиганского</div>
<div class="t sub" style="left:718.00px;transform:scaleX(1.1250)">университета</div>
<div class="t yl" style="top:772.20px">0</div>
<div class="t yl" style="top:687.45px">1</div>
<div class="t yl" style="top:602.70px">2</div>
<div class="t yl" style="top:517.95px">3</div>
<div class="t yl" style="top:433.20px">4</div>
<div class="t yl" style="top:348.45px">5</div>
<div class="t yl" style="top:263.70px">6</div>
<div class="t yl" style="top:178.95px">7</div>
<div class="t yl" style="top:94.20px">8</div>
<div class="t xl" style="left:67.00px;top:849.80px">01-1990</div>
<div class="t xl" style="left:99.96px;top:849.80px">01-1991</div>
<div class="t xl" style="left:132.92px;top:849.80px">01-1992</div>
<div class="t xl" style="left:165.87px;top:849.80px">01-1993</div>
<div class="t xl" style="left:198.83px;top:849.80px">01-1994</div>
<div class="t xl" style="left:231.79px;top:849.80px">01-1995</div>
<div class="t xl" style="left:264.75px;top:849.80px">01-1996</div>
<div class="t xl" style="left:297.71px;top:849.80px">01-1997</div>
<div class="t xl" style="left:330.66px;top:849.80px">01-1998</div>
<div class="t xl" style="left:363.62px;top:849.80px">01-1999</div>
<div class="t xl" style="left:396.58px;top:849.80px">01-2000</div>
<div class="t xl" style="left:429.54px;top:849.80px">01-2001</div>
<div class="t xl" style="left:462.50px;top:849.80px">01-2002</div>
<div class="t xl" style="left:495.45px;top:849.80px">01-2003</div>
<div class="t xl" style="left:528.41px;top:849.80px">01-2004</div>
<div class="t xl" style="left:561.37px;top:849.80px">01-2005</div>
<div class="t xl" style="left:594.33px;top:849.80px">01-2006</div>
<div class="t xl" style="left:627.29px;top:849.80px">01-2007</div>
<div class="t xl" style="left:660.24px;top:849.80px">01-2008</div>
<div class="t xl" style="left:693.20px;top:849.80px">01-2009</div>
<div class="t xl" style="left:726.16px;top:849.80px">01-2010</div>
<div class="t xl" style="left:759.12px;top:849.80px">01-2011</div>
<div class="t xl" style="left:792.08px;top:849.80px">01-2012</div>
<div class="t xl" style="left:825.03px;top:849.80px">01-2013</div>
<div class="t xl" style="left:857.99px;top:849.80px">01-2014</div>
<div class="t xl" style="left:890.95px;top:849.80px">01-2015</div>
<div class="t xl" style="left:923.91px;top:849.80px">01-2016</div>
<div class="t xl" style="left:956.87px;top:849.80px">01-2017</div>
<div class="t xl" style="left:989.82px;top:849.80px">01-2018</div>
<div class="t xl" style="left:1022.78px;top:849.80px">01-2019</div>
<div class="t xl" style="left:1055.74px;top:849.80px">01-2020</div>
<div class="t xl" style="left:1088.70px;top:849.80px">01-2021</div>
<div class="t xl" style="left:1121.66px;top:849.80px">01-2022</div>
<div class="t xl" style="left:1154.61px;top:849.80px">01-2023</div>
<div class="t xl" style="left:1187.57px;top:849.80px">01-2024</div>
<div class="t xl" style="left:1220.53px;top:849.80px">01-2025</div>
<div class="t leg" style="left:397.65px;top:744.2px;transform:scaleX(1.1035)">Инфляционные</div>
<div class="t leg" style="left:548.75px;top:744.2px;transform:scaleX(1.1562)">ожидания</div>
<div class="t leg" style="left:649.06px;top:744.2px;transform:scaleX(0.9375)">1</div>
<div class="t leg" style="left:664.40px;top:744.2px;transform:scaleX(1.2000)">год</div>
<div class="t leg" style="left:885.86px;top:744.2px;transform:scaleX(1.0444)">5</div>
<div class="t leg" style="left:902.50px;top:744.2px;transform:scaleX(1.0500)">лет</div>
<div class="t" id="l66" style="left:1246.3px;top:211.5px;font-size:20.4px;font-weight:bold;color:#1b70b8">6.6</div>
<div class="t" id="l51" style="left:1250.6px;top:341px;font-size:16.2px;color:#404040">5.1</div>
<div class="t" id="l41" style="left:1245.3px;top:423.6px;font-size:20.2px;font-weight:bold;color:#c00000">4.1</div>
</body></html>
